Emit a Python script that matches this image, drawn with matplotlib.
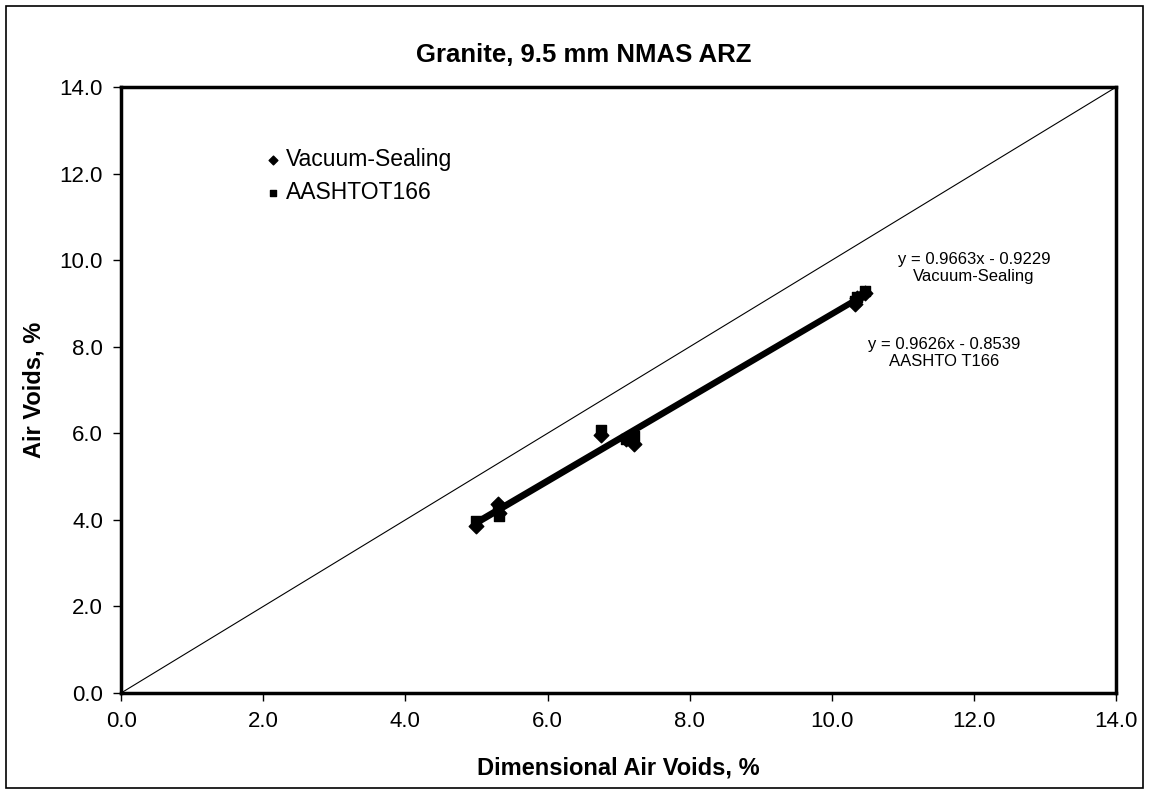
import numpy as np
import matplotlib
matplotlib.use("Agg")
from matplotlib import pyplot as plt
from matplotlib.patches import Rectangle

plt.rcParams['font.family'] = ['Liberation Sans', 'DejaVu Sans']

# Air voids, dimensional vs. measured (%)
vs_x = [5.00, 5.30, 5.32, 6.75, 7.10, 7.22, 10.33, 10.35, 10.47]
vs_y = [3.87, 4.37, 4.15, 5.97, 5.86, 5.76, 9.00, 9.12, 9.24]

t166_x = [5.00, 5.30, 5.32, 6.75, 7.10, 7.22, 10.33, 10.35, 10.47]
t166_y = [3.98, 4.30, 4.08, 6.07, 5.88, 5.95, 9.05, 9.15, 9.28]

# linear trend lines (slope, intercept)
vs_fit = (0.9663, -0.9229)
t166_fit = (0.9626, -0.8539)

fig = plt.figure(figsize=(11.53, 7.92), dpi=100)
ax = fig.add_axes([0.105, 0.125, 0.863, 0.765])

# line of equality
ax.plot([0, 14], [0, 14], color='black', lw=0.8, zorder=1)

# trend lines over the data range
for (m, b), xs in ((vs_fit, vs_x), (t166_fit, t166_x)):
    xr = np.array([min(xs), max(xs)])
    ax.plot(xr, m * xr + b, color='black', lw=3.6, solid_capstyle='butt', zorder=2)

ax.scatter(vs_x, vs_y, marker='D', s=55, color='black', zorder=3, label='Vacuum-Sealing')
ax.scatter(t166_x, t166_y, marker='s', s=55, color='black', zorder=3, label='AASHTOT166')

ax.set_xlim(0, 14)
ax.set_ylim(0, 14)
ticks = np.arange(0, 14.1, 2)
ax.set_xticks(ticks)
ax.set_yticks(ticks)
ax.set_xticklabels([f'{t:.1f}' for t in ticks], fontsize=16)
ax.set_yticklabels([f'{t:.1f}' for t in ticks], fontsize=16)
ax.tick_params(direction='out', length=6, width=1.0, pad=7)
for sp in ax.spines.values():
    sp.set_linewidth(2.5)

fig.text(0.506, 0.931, 'Granite, 9.5 mm NMAS ARZ', ha='center', va='center',
         fontsize=18.5, fontweight='bold')
ax.set_xlabel('Dimensional Air Voids, %', fontsize=17, fontweight='bold')
ax.set_ylabel('Air Voids, %', fontsize=17, fontweight='bold')
ax.xaxis.set_label_coords(0.5, -0.124)
ax.xaxis.label.set_va('center')
ax.yaxis.set_label_coords(-0.088, 0.5)
ax.yaxis.label.set_va('center')

leg = ax.legend(loc='upper left', bbox_to_anchor=(1.98, 12.6), bbox_transform=ax.transData,
                frameon=False, fontsize=16.5, handletextpad=0.05, handlelength=1.0,
                labelspacing=0.45, borderaxespad=0, borderpad=0, markerscale=0.6)

ax.text(12.0, 9.82, f'y = {vs_fit[0]:.4f}x - {abs(vs_fit[1]):.4f}\nVacuum-Sealing',
        ha='center', va='center', fontsize=12, linespacing=1.2)
ax.text(11.58, 7.85, f'y = {t166_fit[0]:.4f}x - {abs(t166_fit[1]):.4f}\nAASHTO T166',
        ha='center', va='center', fontsize=12, linespacing=1.2)

# outer chart border
fig.patches.append(Rectangle((0.005, 0.005), 0.986, 0.988, transform=fig.transFigure,
                             fill=False, edgecolor='black', lw=1.2))

fig.savefig('out.png', dpi=100)
